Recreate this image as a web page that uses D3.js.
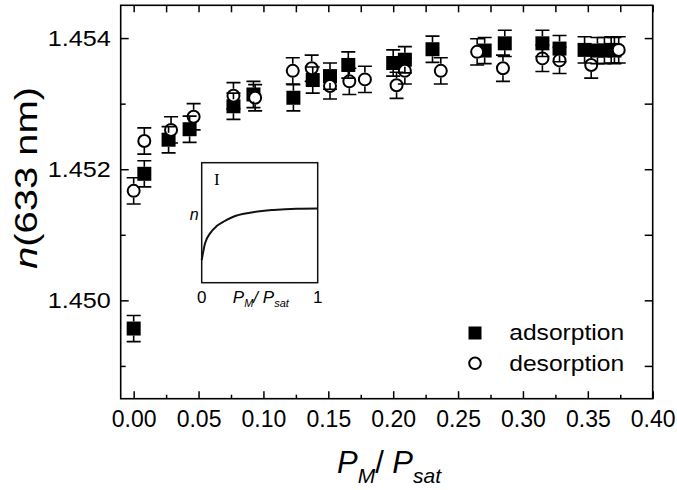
<!DOCTYPE html>
<html>
<head>
<meta charset="utf-8">
<script src="https://cdn.jsdelivr.net/npm/d3@7"></script>
<style>
  body { margin: 0; background: #fff; }
  svg { display: block; }
  text { font-family: Arial, "Liberation Sans", sans-serif; fill: #000; }
</style>
</head>
<body>
<svg id="chart" width="677" height="490"></svg>
<script>
// Refractive index n(633 nm) vs relative pressure, adsorption / desorption branches
const adsorptionX = [0.000, 0.0082, 0.0269, 0.0431, 0.0769, 0.0923, 0.1231, 0.1380, 0.1513, 0.1654,
                     0.2000, 0.2090, 0.2303, 0.2705, 0.2860, 0.3150, 0.3282, 0.3475, 0.3574, 0.3628,
                     0.3680, 0.3705];
const adsorptionN = [1.44957, 1.45193, 1.45245, 1.45261, 1.45296, 1.45314, 1.45309, 1.45336, 1.45342, 1.45359,
                     1.45362, 1.45367, 1.45383, 1.45381, 1.45392, 1.45392, 1.45384, 1.45382, 1.45381, 1.45381,
                     1.45382, 1.45381];
const desorptionX = [0.000, 0.0082, 0.0288, 0.0462, 0.0769, 0.0936, 0.1226, 0.1372, 0.1513, 0.1662,
                     0.1782, 0.2026, 0.2090, 0.2367, 0.2647, 0.2846, 0.3150, 0.3282, 0.3526, 0.3738];
const desorptionN = [1.45167, 1.45243, 1.45260, 1.45280, 1.45312, 1.45309, 1.45350, 1.45354, 1.45327, 1.45334,
                     1.45337, 1.45328, 1.45350, 1.45350, 1.45379, 1.45354, 1.45369, 1.45366, 1.45359, 1.45382];
const errorN = 0.0002;

const xMajorTicks = [0.00, 0.05, 0.10, 0.15, 0.20, 0.25, 0.30, 0.35, 0.40];
const xMinorTicks = [0.025, 0.075, 0.125, 0.175, 0.225, 0.275, 0.325, 0.375];
const yMajorTicks = [1.450, 1.452, 1.454];
const yMinorTicks = [1.449, 1.451, 1.453];

// Schematic isotherm shown in the inset (normalised units)
const insetCurveX = [0, 0.029, 0.072, 0.129, 0.187, 0.273, 0.417, 0.618, 0.819, 1.0];
const insetCurveY = [0.189, 0.328, 0.411, 0.472, 0.508, 0.550, 0.583, 0.606, 0.617, 0.619];

const svg = d3.select("#chart");
const margin = { left: 120.7, top: 5.3, right: 24.3, bottom: 91.3 };
const W = 677 - margin.left - margin.right;
const H = 490 - margin.top - margin.bottom;

const x = d3.scaleLinear().domain([-0.01, 0.40]).range([0, W]);
const y = d3.scaleLinear().domain([1.4485, 1.4545]).range([H, 0]);

const g = svg.append("g").attr("transform", `translate(${margin.left},${margin.top})`);

// axes (ticks point inward)
function styleAxis(size) {
  return sel => {
    sel.select(".domain").remove();
    sel.selectAll(".tick line").attr("stroke", "#000").attr("stroke-width", 1.5);
    sel.selectAll(".tick text").style("font-size", size + "px").attr("fill", "#000");
  };
}
g.append("g").attr("transform", `translate(0,${H})`)
  .call(d3.axisBottom(x).tickValues(xMajorTicks).tickSizeInner(-7.5).tickSizeOuter(0)
        .tickPadding(12).tickFormat(d3.format(".2f")))
  .call(styleAxis(23));
g.append("g").attr("transform", `translate(0,${H})`)
  .call(d3.axisBottom(x).tickValues(xMinorTicks).tickSizeInner(-4).tickSizeOuter(0).tickFormat(""))
  .call(styleAxis(22));
g.append("g")
  .call(d3.axisTop(x).tickValues(xMajorTicks.concat(xMinorTicks)).tickSizeInner(-7).tickSizeOuter(0).tickFormat(""))
  .call(styleAxis(22));
g.append("g")
  .call(d3.axisLeft(y).tickValues(yMajorTicks).tickSizeInner(-8).tickSizeOuter(0)
        .tickPadding(10).tickFormat(d3.format(".3f")))
  .call(styleAxis(22))
  .call(sel => sel.selectAll(".tick text").attr("textLength", 63).attr("lengthAdjust", "spacingAndGlyphs"));
g.append("g")
  .call(d3.axisLeft(y).tickValues(yMinorTicks).tickSizeInner(-5).tickSizeOuter(0).tickFormat(""))
  .call(styleAxis(22));
g.append("g").attr("transform", `translate(${W},0)`)
  .call(d3.axisRight(y).tickValues(yMajorTicks.concat(yMinorTicks)).tickSizeInner(-8).tickSizeOuter(0).tickFormat(""))
  .call(styleAxis(22));

// frame
g.append("rect").attr("width", W).attr("height", H)
  .attr("fill", "none").attr("stroke", "#000").attr("stroke-width", 1.6);

// inset schematic
const ix = d3.scaleLinear().domain([0, 1]).range([81, 197]);
const iy = d3.scaleLinear().domain([0, 1]).range([277.4, 157.4]);
const inset = g.append("g");
inset.append("rect").attr("x", ix(0)).attr("y", iy(1))
  .attr("width", ix(1) - ix(0)).attr("height", iy(0) - iy(1))
  .attr("fill", "#fff").attr("stroke", "#111").attr("stroke-width", 1.5);
inset.append("path")
  .datum(d3.range(insetCurveX.length))
  .attr("fill", "none").attr("stroke", "#111").attr("stroke-width", 2)
  .attr("d", d3.line().x(i => ix(insetCurveX[i])).y(i => iy(insetCurveY[i])).curve(d3.curveMonotoneX));
inset.append("text").attr("x", ix(0.13)).attr("y", iy(0.81))
  .attr("text-anchor", "middle").style("font-family", "'Liberation Serif', 'Times New Roman', serif")
  .style("font-size", "17px").text("I");
inset.append("text").attr("x", ix(0) - 3).attr("y", iy(0.52))
  .attr("text-anchor", "end").style("font-size", "16px").style("font-style", "italic").text("n");
inset.append("text").attr("x", ix(0)).attr("y", iy(0) + 20)
  .attr("text-anchor", "middle").style("font-size", "17px").attr("fill", "#333").text("0");
inset.append("text").attr("x", ix(1)).attr("y", iy(0) + 20)
  .attr("text-anchor", "middle").style("font-size", "17px").attr("fill", "#333").text("1");
const il = inset.append("text").attr("x", ix(0.51)).attr("y", iy(0) + 20)
  .attr("text-anchor", "middle").style("font-size", "17px").style("font-style", "italic");
il.append("tspan").text("P");
il.append("tspan").attr("dy", 4).style("font-size", "11px").text("M");
il.append("tspan").attr("dy", -4).text("/ P");
il.append("tspan").attr("dy", 4).style("font-size", "11px").text("sat");

// symbols
const sq = 14, cr = 6;
const adsIdx = d3.range(adsorptionX.length);
const desIdx = d3.range(desorptionX.length);

g.append("g").selectAll("rect").data(adsIdx).join("rect")
  .attr("x", i => x(adsorptionX[i]) - sq / 2).attr("y", i => y(adsorptionN[i]) - sq / 2)
  .attr("width", sq).attr("height", sq).attr("fill", "#000");

g.append("g").selectAll("circle").data(desIdx).join("circle")
  .attr("cx", i => x(desorptionX[i])).attr("cy", i => y(desorptionN[i])).attr("r", cr)
  .attr("fill", "#fff").attr("stroke", "#000").attr("stroke-width", 2);

// error bars, starting at the symbol edge
function errorBars(xs, ns, gap) {
  const eg = g.append("g").attr("stroke", "#000").attr("stroke-width", 1.6).attr("fill", "none");
  xs.forEach((xv, i) => {
    const cx = x(xv), cy = y(ns[i]);
    const top = y(ns[i] + errorN), bot = y(ns[i] - errorN);
    eg.append("path").attr("d",
      `M${cx},${cy - gap}V${top}M${cx - 7},${top}H${cx + 7}` +
      `M${cx},${cy + gap}V${bot}M${cx - 7},${bot}H${cx + 7}`);
  });
}
errorBars(adsorptionX, adsorptionN, sq / 2);
errorBars(desorptionX, desorptionN, cr + 1);

// legend
const lg = g.append("g");
lg.append("rect").attr("x", 354.3 - 6.5).attr("y", 327.7 - 6.5).attr("width", 13).attr("height", 13).attr("fill", "#000");
lg.append("circle").attr("cx", 354.3).attr("cy", 358).attr("r", 5.8)
  .attr("fill", "#fff").attr("stroke", "#000").attr("stroke-width", 2);
lg.append("text").attr("x", 388.5).attr("y", 335).style("font-size", "22px")
  .attr("textLength", 115).attr("lengthAdjust", "spacingAndGlyphs").text("adsorption");
lg.append("text").attr("x", 388.5).attr("y", 365.5).style("font-size", "22px")
  .attr("textLength", 115).attr("lengthAdjust", "spacingAndGlyphs").text("desorption");

// axis titles
const xt = svg.append("text").attr("x", 389).attr("y", 473.3)
  .attr("text-anchor", "middle").style("font-size", "31px");
xt.append("tspan").style("font-style", "italic").text("P");
xt.append("tspan").attr("dy", 10).style("font-size", "21px").style("font-style", "italic").text("M");
xt.append("tspan").attr("dy", -10).text("/ ");
xt.append("tspan").style("font-style", "italic").text("P");
xt.append("tspan").attr("dy", 10).style("font-size", "21px").style("font-style", "italic").text("sat");

const yt = svg.append("text").attr("transform", "translate(37,178) rotate(-90)")
  .attr("text-anchor", "middle").style("font-size", "32px")
  .attr("textLength", 182).attr("lengthAdjust", "spacingAndGlyphs");
yt.append("tspan").style("font-style", "italic").text("n");
yt.append("tspan").text("(633 nm)");
</script>
</body>
</html>
